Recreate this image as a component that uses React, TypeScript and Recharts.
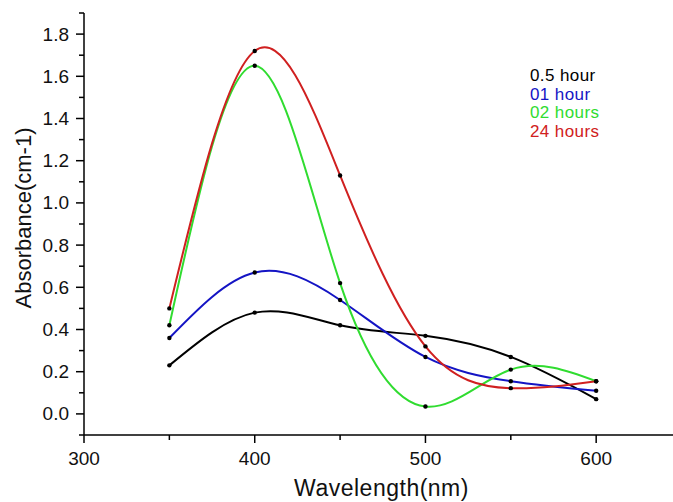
import React from 'react';
import { LineChart, Line, XAxis, YAxis, Legend } from 'recharts';

const wavelengths = [350, 400, 450, 500, 550, 600];
const halfHour = [0.23, 0.48, 0.42, 0.37, 0.27, 0.07];
const oneHour = [0.36, 0.67, 0.54, 0.27, 0.155, 0.11];
const twoHours = [0.42, 1.65, 0.62, 0.035, 0.21, 0.155];
const dayHours = [0.5, 1.72, 1.13, 0.32, 0.122, 0.155];

const seriesNames = ['0.5 hour', '01 hour', '02 hours', '24 hours'];
const seriesKeys = ['h05', 'h1', 'h2', 'h24'];
const seriesColors = ['#000000', '#1414c4', '#30dc30', '#d02020'];

const xTicks = [300, 350, 400, 450, 500, 550, 600];
const xMajor = [300, 400, 500, 600];
const yTicks = [-0.1, 0, 0.1, 0.2, 0.3, 0.4, 0.5, 0.6, 0.7, 0.8, 0.9, 1.0, 1.1, 1.2, 1.3, 1.4, 1.5, 1.6, 1.7, 1.8, 1.9];
const yMajor = [0, 0.2, 0.4, 0.6, 0.8, 1.0, 1.2, 1.4, 1.6, 1.8];

const data = wavelengths.map((w, i) => ({
  w,
  h05: halfHour[i],
  h1: oneHour[i],
  h2: twoHours[i],
  h24: dayHours[i],
}));

const FONT = '"Liberation Sans", Arial, sans-serif';

const isMajorY = (v: number) => yMajor.some((m) => Math.abs(m - v) < 1e-6);

const XTick = (props: any) => {
  const { x, y, payload } = props;
  const major = xMajor.includes(payload.value);
  return (
    <g>
      <line x1={x} x2={x} y1={y} y2={y + (major ? 8 : 5)} stroke="#000" strokeWidth={1.5} />
      {major && (
        <text x={x} y={y + 30} textAnchor="middle" fontSize={19} fontFamily={FONT} fill="#111">
          {payload.value}
        </text>
      )}
    </g>
  );
};

const YTick = (props: any) => {
  const { x, y, payload } = props;
  const major = isMajorY(payload.value);
  return (
    <g>
      <line x1={x} x2={x - (major ? 8 : 5)} y1={y} y2={y} stroke="#000" strokeWidth={1.5} />
      {major && (
        <text x={x - 15} y={y} textAnchor="end" dominantBaseline="central" fontSize={19} fontFamily={FONT} fill="#111">
          {payload.value.toFixed(1)}
        </text>
      )}
    </g>
  );
};

const XLabel = (props: any) => {
  const vb = props.viewBox || {};
  return (
    <text
      x={vb.x + vb.width / 2 + 3}
      y={vb.y + 61}
      textAnchor="middle"
      fontSize={23}
      letterSpacing={0.5}
      fontFamily={FONT}
      fill="#111"
    >
      Wavelength(nm)
    </text>
  );
};

const YLabel = (props: any) => {
  const vb = props.viewBox || {};
  const cx = 23;
  const cy = vb.y + vb.height / 2 - 6;
  return (
    <text
      x={cx}
      y={cy}
      transform={`rotate(-90, ${cx}, ${cy})`}
      textAnchor="middle"
      dominantBaseline="central"
      fontSize={22}
      fontFamily={FONT}
      fill="#111"
    >
      Absorbance(cm-1)
    </text>
  );
};

const LegendContent = () => (
  <div style={{ fontFamily: FONT, fontSize: 17, lineHeight: '18.7px', letterSpacing: 0.4, textAlign: 'left' }}>
    {seriesNames.map((n, i) => (
      <div key={n} style={{ color: seriesColors[i] }}>
        {n}
      </div>
    ))}
  </div>
);

const Dot = (props: any) => {
  const { cx, cy } = props;
  if (cx == null || cy == null) return null;
  return <circle cx={cx} cy={cy} r={2.2} fill="#000" />;
};

export default function App() {
  return (
    <div style={{ position: 'absolute', left: 0, top: 0, background: '#fff' }}>
      <LineChart width={673} height={502} data={data} margin={{ top: 13, right: 0, bottom: 0, left: 0 }}>
        <XAxis
          dataKey="w"
          type="number"
          domain={[300, 645]}
          ticks={xTicks}
          tick={<XTick />}
          tickLine={false}
          tickSize={0}
          tickMargin={0}
          height={67}
          axisLine={{ stroke: '#000', strokeWidth: 1.5 }}
          label={<XLabel />}
          allowDataOverflow
        />
        <YAxis
          type="number"
          domain={[-0.1, 1.9]}
          ticks={yTicks}
          tick={<YTick />}
          tickLine={false}
          tickSize={0}
          tickMargin={0}
          width={84}
          axisLine={{ stroke: '#000', strokeWidth: 1.5 }}
          label={<YLabel />}
          interval={0}
          allowDataOverflow
        />
        <Legend
          layout="vertical"
          verticalAlign="middle"
          align="center"
          content={<LegendContent />}
          wrapperStyle={{ position: 'absolute', left: 530, top: 67, width: 120 }}
        />
        {seriesKeys.map((k, i) => (
          <Line
            key={k}
            type="natural"
            dataKey={k}
            name={seriesNames[i]}
            stroke={seriesColors[i]}
            strokeWidth={2}
            dot={<Dot />}
            activeDot={false}
            isAnimationActive={false}
          />
        ))}
      </LineChart>
    </div>
  );
}
